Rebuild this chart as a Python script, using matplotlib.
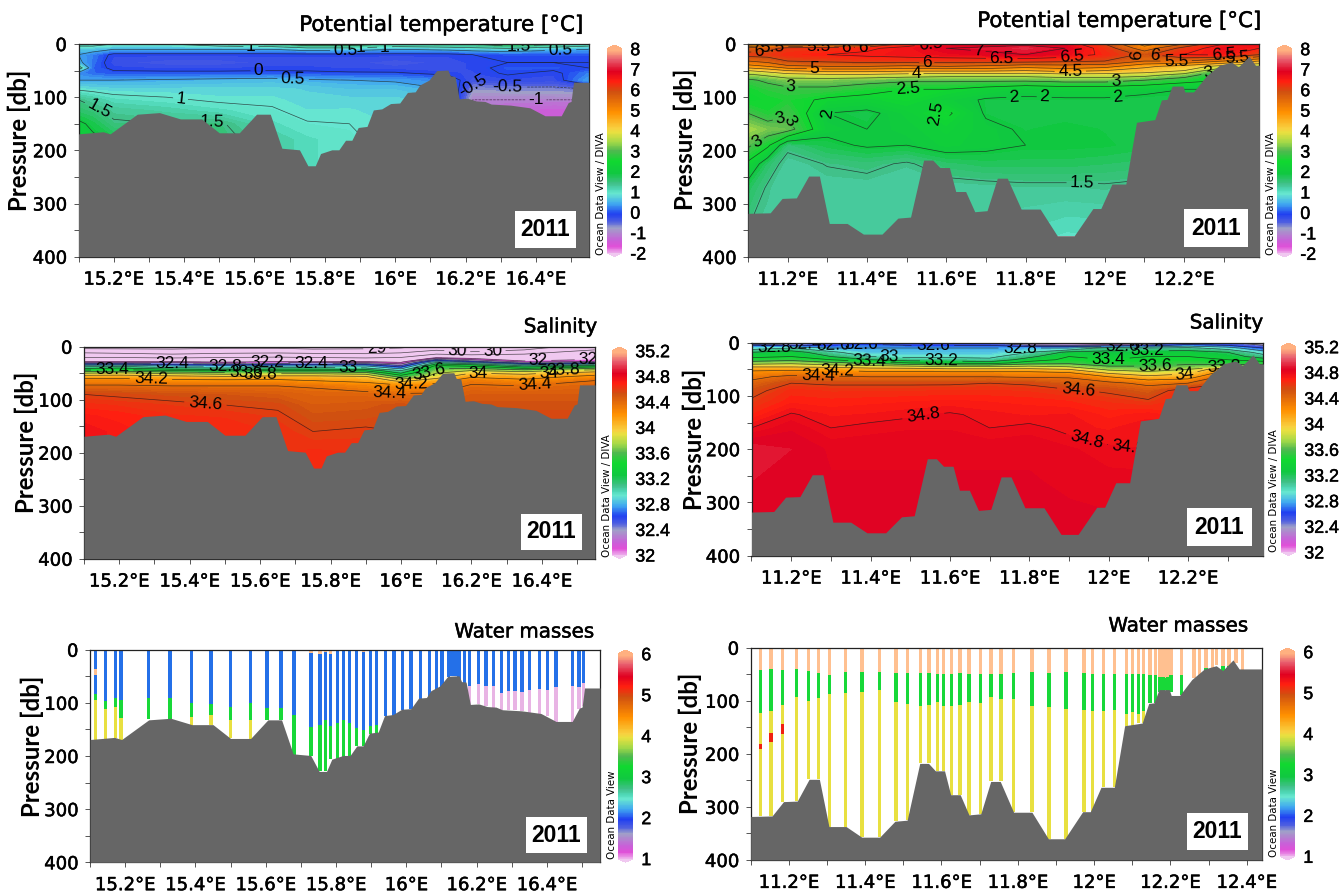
import numpy as np
import matplotlib
matplotlib.use('Agg')
import matplotlib.pyplot as plt
import matplotlib.patheffects as pe
from matplotlib.colors import LinearSegmentedColormap, Normalize
from matplotlib.cm import ScalarMappable
from matplotlib.patches import Rectangle

W, H = 1339, 894

# Bottom topography of the two transects
east_bathy_lon = [15.10, 15.17, 15.19, 15.267, 15.33, 15.39, 15.45, 15.50, 15.557, 15.606, 15.645, 15.678, 15.728,
                  15.752, 15.773, 15.788, 15.82, 15.84, 15.859, 15.877, 15.895, 15.92, 15.938, 15.962, 15.987, 16.013,
                  16.035, 16.057, 16.07, 16.096, 16.118, 16.15, 16.157, 16.17, 16.182, 16.206, 16.23, 16.255, 16.273,
                  16.328, 16.383, 16.426, 16.472, 16.492, 16.50, 16.507, 16.551]
east_bathy_db = [169, 165, 169, 132, 129, 141, 141, 167, 167, 132, 132, 196, 199,
                 229, 229, 206, 199, 199, 181, 181, 157, 155, 124, 122, 112, 111,
                 91, 90, 77, 68, 50, 49, 60, 61, 103, 102, 107, 108, 113,
                 115, 120, 135, 135, 110, 108, 72, 72]
west_bathy_lon = [11.10, 11.156, 11.186, 11.222, 11.253, 11.28, 11.305, 11.35, 11.391, 11.438, 11.478, 11.51, 11.543,
                  11.566, 11.584, 11.608, 11.624, 11.649, 11.672, 11.703, 11.729, 11.754, 11.789, 11.837, 11.88, 11.923,
                  11.97, 11.99, 12.018, 12.053, 12.08, 12.126, 12.143, 12.157, 12.17, 12.197, 12.202, 12.224, 12.256,
                  12.289, 12.32, 12.337, 12.364, 12.38, 12.39, 12.44]
west_bathy_db = [318, 317, 290, 289, 248, 248, 337, 337, 357, 357, 327, 325, 218,
                 218, 232, 232, 277, 277, 315, 313, 252, 252, 310, 310, 360, 360,
                 309, 309, 263, 263, 147, 142, 105, 104, 79, 79, 90, 90, 60,
                 40, 34, 43, 23, 40, 40, 40]

# Temperature, east transect
temp_e_lon = [15.10, 15.14, 15.20, 15.35, 15.50, 15.65, 15.75, 15.87, 16.00, 16.15, 16.22, 16.32, 16.45, 16.55]
temp_e_db = [0, 4, 10, 20, 35, 45, 55, 68, 85, 105, 125, 150, 180, 232]
temp_e = [
    [1.4, 1.2, 1.0, 1.0, 1.2, 1.4, 1.9, 1.9, 1.4, 1.5, 1.5, 1.9, 1.6, 1.2],
    [1.0, 1.0, 0.9, 0.9, 1.0, 1.1, 1.4, 1.4, 1.1, 1.2, 1.3, 1.5, 1.2, 1.0],
    [0.7, 0.7, 0.5, 0.5, 0.5, 0.5, 0.7, 0.7, 0.5, 0.6, 0.7, 0.8, 0.6, 0.5],
    [0.5, 0.3, -0.1, -0.1, -0.1, -0.1, -0.1, -0.1, -0.1, -0.1, 0.0, 0.1, 0.1, 0.1],
    [0.6, 0.25, -0.2, -0.3, -0.3, -0.2, -0.2, -0.2, -0.3, -0.2, -0.1, 0.0, 0.0, 0.0],
    [1.3, 0.2, -0.1, -0.15, -0.15, -0.1, -0.1, -0.15, -0.2, -0.2, -0.1, 0.1, 0.1, 0.0],
    [0.35, 0.2, 0.1, 0.1, 0.1, 0.1, 0.08, 0.05, 0.05, -0.1, -0.15, 0.05, -0.1, 0.3],
    [0.5, 0.5, 0.5, 0.55, 0.6, 0.65, 0.55, 0.5, 0.45, 0.3, -0.3, -0.15, -0.2, 0.5],
    [0.95, 0.9, 0.85, 0.85, 0.85, 0.85, 0.8, 0.7, 0.7, 0.5, -0.65, -0.6, -0.6, -0.5],
    [1.5, 1.35, 1.15, 1.05, 0.95, 0.95, 0.85, 0.85, 0.85, 0.7, -1.0, -1.0, -1.0, -1.0],
    [1.7, 1.6, 1.4, 1.3, 1.15, 1.03, 0.92, 0.93, 0.85, 0.7, -1.1, -1.25, -1.35, -1.3],
    [2.1, 1.9, 1.55, 1.5, 1.55, 1.15, 1.02, 1.0, 0.9, 0.7, -1.1, -1.3, -1.4, -1.3],
    [2.2, 2.1, 1.9, 1.7, 1.6, 1.35, 1.15, 1.05, 0.9, 0.7, -1.1, -1.3, -1.4, -1.3],
    [2.2, 2.1, 1.9, 1.7, 1.6, 1.35, 1.15, 1.05, 0.9, 0.7, -1.1, -1.3, -1.4, -1.3],
]

# Temperature, west transect
temp_w_lon = [11.10, 11.15, 11.20, 11.30, 11.40, 11.50, 11.60, 11.70, 11.80, 11.90, 12.00, 12.10, 12.20, 12.30, 12.39]
temp_w_db = [0, 8, 20, 32, 42, 50, 58, 68, 85, 105, 130, 160, 190, 225, 270, 360]
temp_w = [
    [4.0, 4.5, 4.5, 4.5, 5.0, 6.2, 6.7, 6.8, 6.9, 6.8, 6.0, 4.8, 5.5, 6.5, 6.8],
    [5.7, 5.8, 6.2, 6.3, 6.4, 6.7, 7.0, 7.1, 7.2, 7.0, 6.3, 5.2, 6.2, 6.8, 6.5],
    [6.2, 6.2, 6.4, 6.5, 6.6, 6.7, 6.8, 6.9, 7.0, 6.8, 6.4, 5.9, 6.5, 6.6, 6.0],
    [5.5, 5.7, 6.0, 6.1, 6.2, 6.2, 6.2, 6.2, 6.2, 6.1, 6.0, 5.5, 5.5, 5.0, 4.5],
    [4.8, 5.0, 5.4, 5.5, 5.5, 5.4, 5.5, 5.4, 5.2, 5.3, 5.2, 4.6, 4.3, 3.8, 3.5],
    [4.0, 4.2, 4.5, 4.7, 4.7, 4.6, 4.6, 4.6, 4.5, 4.7, 4.5, 4.3, 4.0, 3.0, 3.0],
    [3.4, 3.6, 3.8, 3.9, 3.9, 3.8, 3.7, 3.7, 3.7, 3.8, 3.8, 3.7, 3.3, 2.5, 2.5],
    [2.9, 3.1, 3.3, 3.3, 3.2, 3.1, 3.1, 3.1, 3.1, 3.2, 3.2, 3.0, 2.7, 2.5, 2.5],
    [2.6, 2.8, 2.9, 2.9, 2.7, 2.5, 2.5, 2.3, 2.1, 2.2, 2.2, 2.1, 2.0, 2.0, 2.0],
    [2.5, 2.6, 2.7, 2.4, 2.3, 2.5, 2.2, 1.95, 1.95, 1.95, 1.95, 1.9, 1.9, 1.9, 1.9],
    [3.0, 2.7, 2.95, 2.0, 1.9, 2.2, 2.6, 1.95, 1.9, 1.9, 1.9, 1.9, 1.9, 1.9, 1.9],
    [3.5, 3.3, 3.2, 2.1, 2.0, 2.1, 2.3, 2.1, 1.95, 2.0, 1.95, 1.9, 1.9, 1.9, 1.9],
    [3.1, 2.6, 1.6, 1.9, 2.05, 2.0, 2.2, 2.1, 2.0, 2.0, 1.98, 1.9, 1.9, 1.9, 1.9],
    [2.4, 1.7, 1.35, 1.52, 1.6, 1.45, 1.7, 1.8, 1.8, 1.8, 1.75, 1.7, 1.7, 1.7, 1.7],
    [1.8, 1.45, 1.35, 1.35, 1.35, 1.35, 1.35, 1.38, 1.42, 1.42, 1.45, 1.4, 1.4, 1.4, 1.4],
    [1.45, 1.4, 1.4, 1.4, 1.4, 1.35, 1.35, 1.3, 1.2, 1.1, 1.1, 1.1, 1.1, 1.1, 1.1],
]

# Salinity, east transect
sal_e_lon = [15.10, 15.20, 15.35, 15.50, 15.65, 15.75, 15.90, 16.00, 16.10, 16.20, 16.35, 16.55]
sal_e_db = [0, 6, 14, 22, 28, 31, 34, 37, 41, 45, 50, 56, 64, 74, 90, 110, 130, 160, 200, 240]
sal_e = [
    [28.5, 28.6, 28.7, 28.8, 28.8, 28.7, 28.8, 28.8, 29.3, 29.0, 29.5, 30.5],
    [29.3, 29.2, 29.1, 29.2, 29.2, 29.1, 29.1, 29.3, 29.9, 29.4, 30.0, 31.0],
    [30.3, 30.2, 30.0, 30.2, 30.3, 30.2, 30.1, 30.3, 31.0, 30.8, 31.0, 31.5],
    [31.2, 31.2, 31.1, 31.2, 31.3, 31.2, 31.1, 31.2, 32.2, 32.0, 31.6, 31.9],
    [32.0, 32.0, 32.0, 31.9, 32.0, 32.0, 32.0, 31.9, 32.8, 32.5, 32.1, 32.2],
    [32.3, 32.3, 32.3, 32.2, 32.3, 32.3, 32.3, 32.1, 33.1, 32.9, 32.4, 32.5],
    [32.7, 32.7, 32.6, 32.5, 32.6, 32.6, 32.6, 32.3, 33.3, 33.2, 32.8, 32.9],
    [32.95, 33.0, 32.85, 32.8, 32.85, 32.85, 32.85, 32.5, 33.5, 33.4, 33.1, 33.3],
    [33.2, 33.25, 33.1, 33.05, 33.1, 33.1, 33.05, 32.75, 33.6, 33.6, 33.4, 33.6],
    [33.45, 33.5, 33.4, 33.35, 33.4, 33.4, 33.35, 33.0, 33.7, 33.8, 33.7, 33.9],
    [33.8, 33.85, 33.75, 33.7, 33.75, 33.75, 33.7, 33.2, 33.8, 34.0, 33.95, 34.1],
    [34.1, 34.1, 34.05, 34.0, 34.05, 34.05, 34.0, 33.5, 33.9, 34.15, 34.1, 34.25],
    [34.3, 34.3, 34.25, 34.25, 34.25, 34.2, 34.15, 33.95, 34.1, 34.35, 34.25, 34.4],
    [34.42, 34.42, 34.4, 34.4, 34.4, 34.38, 34.3, 34.25, 34.3, 34.42, 34.4, 34.45],
    [34.6, 34.58, 34.55, 34.53, 34.5, 34.46, 34.45, 34.42, 34.42, 34.5, 34.5, 34.5],
    [34.68, 34.66, 34.63, 34.6, 34.58, 34.5, 34.52, 34.55, 34.5, 34.55, 34.55, 34.55],
    [34.74, 34.72, 34.67, 34.66, 34.62, 34.54, 34.55, 34.58, 34.5, 34.58, 34.58, 34.58],
    [34.8, 34.75, 34.7, 34.7, 34.66, 34.6, 34.62, 34.6, 34.5, 34.58, 34.58, 34.58],
    [34.8, 34.75, 34.7, 34.7, 34.66, 34.68, 34.66, 34.6, 34.5, 34.58, 34.58, 34.58],
    [34.8, 34.75, 34.7, 34.7, 34.66, 34.7, 34.66, 34.6, 34.5, 34.58, 34.58, 34.58],
]

# Salinity, west transect
sal_w_lon = [11.10, 11.20, 11.30, 11.40, 11.50, 11.60, 11.70, 11.80, 11.90, 12.00, 12.10, 12.20, 12.30, 12.39]
sal_w_db = [0, 5, 10, 18, 26, 32, 38, 44, 50, 56, 64, 76, 90, 110, 135, 160, 200, 260, 360]
sal_w = [
    [32.1, 32.0, 32.3, 32.4, 32.5, 32.5, 32.4, 32.0, 32.1, 32.0, 32.0, 32.4, 32.5, 32.1],
    [32.6, 32.5, 32.6, 32.7, 32.6, 32.6, 32.6, 32.4, 32.4, 32.3, 32.5, 32.7, 32.6, 32.4],
    [32.9, 33.0, 32.8, 32.8, 32.8, 32.8, 32.8, 32.8, 32.8, 33.1, 33.0, 33.05, 32.9, 32.6],
    [33.2, 33.3, 33.05, 32.85, 32.85, 32.85, 32.85, 33.0, 33.25, 33.25, 33.3, 33.3, 33.2, 32.9],
    [33.35, 33.4, 33.2, 33.0, 32.95, 32.95, 32.95, 33.15, 33.4, 33.35, 33.4, 33.4, 33.3, 33.1],
    [33.5, 33.55, 33.4, 33.2, 33.1, 33.1, 33.05, 33.3, 33.45, 33.4, 33.45, 33.45, 33.4, 33.3],
    [33.7, 33.75, 33.65, 33.55, 33.4, 33.35, 33.3, 33.5, 33.55, 33.5, 33.5, 33.55, 33.5, 33.5],
    [33.95, 33.95, 33.9, 33.85, 33.8, 33.75, 33.75, 33.8, 33.75, 33.6, 33.6, 33.65, 33.7, 33.7],
    [34.15, 34.15, 34.15, 34.1, 34.1, 34.05, 34.05, 34.05, 34.0, 33.75, 33.7, 33.8, 34.2, 34.2],
    [34.25, 34.3, 34.3, 34.25, 34.25, 34.25, 34.25, 34.25, 34.2, 33.95, 33.85, 33.95, 34.3, 34.3],
    [34.35, 34.45, 34.42, 34.4, 34.4, 34.4, 34.4, 34.38, 34.38, 34.2, 34.05, 34.1, 34.5, 34.5],
    [34.45, 34.6, 34.58, 34.58, 34.58, 34.58, 34.6, 34.58, 34.5, 34.45, 34.35, 34.4, 34.6, 34.6],
    [34.55, 34.68, 34.66, 34.66, 34.66, 34.67, 34.67, 34.66, 34.62, 34.58, 34.5, 34.7, 34.7, 34.7],
    [34.62, 34.72, 34.71, 34.72, 34.73, 34.74, 34.73, 34.72, 34.7, 34.66, 34.62, 34.7, 34.7, 34.7],
    [34.7, 34.81, 34.76, 34.77, 34.79, 34.81, 34.78, 34.76, 34.77, 34.72, 34.75, 34.7, 34.7, 34.7],
    [34.8, 34.86, 34.8, 34.82, 34.83, 34.83, 34.8, 34.82, 34.78, 34.76, 34.8, 34.8, 34.8, 34.8],
    [34.93, 34.9, 34.86, 34.86, 34.86, 34.86, 34.86, 34.86, 34.84, 34.81, 34.8, 34.8, 34.8, 34.8],
    [34.9, 34.88, 34.87, 34.87, 34.87, 34.87, 34.87, 34.87, 34.86, 34.85, 34.85, 34.85, 34.85, 34.85],
    [34.88, 34.88, 34.88, 34.88, 34.88, 34.88, 34.88, 34.88, 34.88, 34.88, 34.88, 34.88, 34.88, 34.88],
]

# Contour levels
temp_e_levels = [-1, -0.5, 0, 0.5, 1, 1.5, 2]
temp_w_levels = [1.5, 2, 2.5, 3, 3.5, 4, 4.5, 5, 5.5, 6, 6.5, 7]
sal_e_levels = [29, 30, 31, 32, 32.2, 32.4, 32.6, 32.8, 33, 33.2, 33.4, 33.6, 33.8, 34, 34.2, 34.4, 34.6]
sal_w_levels = [32, 32.2, 32.4, 32.6, 32.8, 33, 33.2, 33.4, 33.6, 33.8, 34, 34.2, 34.4, 34.6, 34.8]

# Where the contour labels sit (lon, db)
temp_e_labels = [(15.59, 5), (15.86, 12), (15.9, 8), (15.97, 5), (16.35, 5), (16.47, 11), (15.61, 47), (15.71, 65),
                 (15.39, 102), (15.16, 121), (16.22, 55), (16.32, 82), (16.4, 103), (15.48, 152)]
temp_w_labels = [(11.127, 11), (11.162, 5), (11.267, 47), (11.208, 78), (11.503, 92), (11.524, 55), (11.551, 31),
                 (11.575, 10), (11.68, 19), (11.74, 30), (11.916, 14), (11.913, 53), (12.027, 70), (12.083, 16),
                 (12.126, 24), (12.18, 30), (12.3, 21), (12.334, 25), (12.262, 54), (11.77, 94), (11.845, 146),
                 (12.038, 149), (11.943, 267), (11.175, 121), (11.19, 150), (11.12, 179), (11.283, 140),
                 (11.537, 134), (11.278, 5), (11.348, 6), (11.389, 8)]
sal_e_labels = [(15.18, 44), (15.35, 33), (15.29, 61), (15.5, 38), (15.56, 47), (15.6, 52), (15.62, 30), (15.746, 33),
                (15.85, 41), (16.08, 50), (16.22, 48), (16.39, 25), (16.46, 44), (16.42, 52), (16.38, 71), (16.03, 79),
                (15.445, 105), (15.965, 113), (15.93, 3), (16.16, 6), (16.26, 3), (16.53, 16)]
sal_w_labels = [(11.158, 8), (11.236, 3), (11.307, 6), (11.377, 3), (11.448, 19), (11.397, 37), (11.317, 55),
                (11.268, 58), (11.557, 6), (11.578, 34), (11.776, 11), (12.035, 6), (12.098, 13), (12.0, 34),
                (12.118, 47), (12.192, 56), (12.29, 45), (11.923, 94), (11.54, 169), (11.945, 179), (12.056, 161)]

# Water masses, east transect: bottom of each layer per station, 0 = layer absent
wm_e_lon = [15.116, 15.144, 15.172, 15.188, 15.267, 15.328, 15.389, 15.444, 15.5, 15.556, 15.604, 15.643, 15.68,
            15.729, 15.754, 15.77, 15.785, 15.805, 15.822, 15.839, 15.859, 15.878, 15.898, 15.916, 15.94, 15.965,
            15.99, 16.013, 16.041, 16.065, 16.085, 16.101, 16.12, 16.126, 16.132, 16.14, 16.146, 16.15, 16.166, 16.18,
            16.205, 16.227, 16.248, 16.27, 16.29, 16.309, 16.329, 16.351, 16.378, 16.401, 16.426, 16.473, 16.491,
            16.504]
wm_e_peach = [0, 0, 0, 0, 0, 0, 0, 0, 0, 0, 3, 3, 0, 6, 8, 5, 8, 3, 3, 0, 2, 5, 3, 3, 3, 3,
              2, 0, 1, 1, 1, 1, 3, 3, 3, 3, 3, 3, 3, 0, 0, 2, 0, 0, 0, 0, 2, 0, 0, 0, 0, 3, 3, 0]
wm_e_blue = [83, 97, 90, 95, 90, 90, 101, 102, 107, 101, 110, 110, 122, 146, 142, 132, 143, 138, 132, 138, 147, 152,
             144, 142, 125, 124, 113, 112, 92, 91, 77, 70, 52, 50, 50, 50, 50, 60, 62, 68, 65, 68, 68, 82, 78, 78,
             80, 75, 74, 75, 70, 68, 70, 62]
wm_e_green = [94, 112, 108, 128, 131, 130, 127, 122, 132, 133, 132, 132, 198, 200, 229, 229, 206, 206, 203, 200, 182,
              182, 158, 157, 0, 0, 0, 0, 0, 0, 0, 0, 0, 0, 0, 0, 0, 0, 0, 0, 0, 0, 0, 0, 0, 0, 0, 0, 0, 0, 0, 0, 0, 0]
wm_e_yellow = [171, 168, 166, 172, 0, 0, 143, 141, 167, 168, 0, 0, 0, 0, 0, 0, 0, 0, 0, 0, 0, 0, 0, 0, 0, 0,
               0, 0, 0, 0, 0, 0, 0, 0, 0, 0, 0, 0, 0, 0, 0, 0, 0, 0, 0, 0, 0, 0, 0, 0, 0, 0, 0, 0]
wm_e_pink = [0, 0, 0, 0, 0, 0, 0, 0, 0, 0, 0, 0, 0, 0, 0, 0, 0, 0, 0, 0, 0, 0, 0, 0, 0, 0, 0, 0, 0, 0, 0, 0, 0, 0, 0,
             0, 0, 0, 0, 104, 103, 106, 109, 114, 113, 114, 116, 120, 121, 125, 137, 136, 112, 105]
# peach lens inside the first east station
wm_e_lens = (15.116, 36, 47)

# Water masses, west transect
wm_w_lon = [11.125, 11.153, 11.184, 11.22, 11.252, 11.278, 11.306, 11.348, 11.392, 11.437, 11.481, 11.511, 11.545,
            11.567, 11.589, 11.606, 11.626, 11.649, 11.672, 11.702, 11.73, 11.756, 11.789, 11.837, 11.882, 11.926,
            11.973, 11.996, 12.025, 12.054, 12.085, 12.101, 12.116, 12.13, 12.147, 12.161, 12.173, 12.18, 12.187,
            12.194, 12.201, 12.229, 12.262, 12.276, 12.293, 12.31, 12.321, 12.338, 12.353, 12.372, 12.389]
wm_w_peach = [42, 40, 42, 41, 44, 48, 51, 46, 46, 46, 48, 48, 48, 48, 49, 49, 49, 48, 49, 50, 50, 49, 48, 46, 47, 46,
              48, 49, 50, 49, 49, 50, 50, 50, 51, 52, 55, 56, 57, 55, 52, 52, 58, 55, 39, 38, 33, 34, 35, 28, 42]
wm_w_green = [123, 120, 108, 92, 100, 95, 88, 85, 83, 80, 102, 106, 110, 108, 103, 110, 109, 108, 102, 104, 92, 96,
              97, 110, 112, 115, 118, 120, 120, 118, 124, 122, 125, 120, 105, 105, 83, 82, 80, 81, 83, 90, 0, 0, 47,
              0, 0, 46, 45, 0, 0]
wm_w_yellow = [318, 317, 290, 289, 248, 248, 337, 337, 357, 357, 327, 325, 218, 218, 232, 232, 277, 277, 315, 313,
               252, 252, 310, 310, 360, 360, 309, 309, 263, 263, 147, 147, 142, 142, 0, 0, 0, 0, 0, 0, 0, 0, 0, 0, 0,
               0, 0, 0, 0, 0, 0]
# red lenses (lon, top, bottom)
wm_w_red_lon = [11.125, 11.153, 11.184]
wm_w_red_top = [181, 160, 144]
wm_w_red_bottom = [190, 177, 163]

peach = '#ffc090'
blue = '#2470e8'
green = '#18d838'
yellow = '#e8e040'
pink = '#e8b4e4'
red = '#f02010'
grey = '#666666'

# ODV colour bar
odv_stops = [(0.0, '#f0c8f0'), (0.04, '#e050d8'), (0.07, '#c860d8'), (0.13, '#a0a0c8'), (0.16, '#5060e0'),
             (0.20, '#2040f0'), (0.25, '#40a8f0'), (0.30, '#68e8d0'), (0.32, '#50d8b8'), (0.35, '#40c088'),
             (0.40, '#10c840'), (0.46, '#10d830'), (0.51, '#50b850'), (0.55, '#a0d848'), (0.60, '#e8e040'),
             (0.62, '#f8d040'), (0.70, '#ff9000'), (0.80, '#d05010'), (0.85, '#ff2010'), (0.90, '#e00020'),
             (0.96, '#e86070'), (1.0, '#ffb080')]
odv = LinearSegmentedColormap.from_list('odv', odv_stops, N=256)
odv.set_under('#f0c8f0')
odv.set_over('#ffb080')

heavy = [pe.withStroke(linewidth=0.35, foreground='black')]


def px_rect(x0, y0, x1, y1):
    return [x0 / W, 1 - y1 / H, (x1 - x0) / W, (y1 - y0) / H]


def base_axes(fig, box, xlim, xticks, xlabels):
    ax = fig.add_axes(px_rect(*box))
    ax.set_xlim(*xlim)
    ax.set_ylim(400, 0)
    ax.set_yticks([0, 100, 200, 300, 400])
    ax.set_yticks([50, 150, 250, 350], minor=True)
    ax.set_xticks(xticks)
    ax.set_xticklabels(xlabels)
    minor = np.arange(11.1, 16.6, 0.1)
    ax.set_xticks(minor[(minor >= xlim[0] - 1e-6) & (minor <= xlim[1])], minor=True)
    ax.tick_params(which='both', length=3.5, width=0.7, color='#555555')
    ax.tick_params(axis='x', which='major', pad=6.5, labelsize=13)
    ax.tick_params(axis='y', which='major', pad=5, labelsize=13)
    for t in ax.get_xticklabels() + ax.get_yticklabels():
        t.set_path_effects(heavy)
    for s in ax.spines.values():
        s.set_linewidth(0.9)
        s.set_color('#222222')
    return ax


def add_bathy(ax, lon, db):
    ax.fill_between(lon, db, 400, color=grey, lw=0, zorder=3)


def add_field(ax, lon, db, grid, vmin, vmax, levels, labels):
    norm = Normalize(vmin, vmax)
    ax.contourf(lon, db, np.array(grid), levels=np.linspace(vmin, vmax, 97), cmap=odv, norm=norm,
                extend='both', zorder=1)
    cs = ax.contour(lon, db, np.array(grid), levels=levels, colors='#1c1c1c', linewidths=0.5, alpha=0.75, zorder=2)
    txts = ax.clabel(cs, fmt='%g', manual=labels, inline=True, inline_spacing=2, fontsize=12.5, zorder=2.5)
    for t in txts:
        t.set_family('Liberation Sans')
        t.set_color('black')
        t.set_alpha(1)


def add_cbar(fig, box, vmin, vmax, ticks, ticklabels):
    cax = fig.add_axes(px_rect(*box))
    cb = fig.colorbar(ScalarMappable(Normalize(vmin, vmax), odv), cax=cax, extend='both', extendfrac=0.018)
    cb.set_ticks(ticks)
    cb.set_ticklabels(ticklabels)
    cb.minorticks_off()
    cax.tick_params(length=0, pad=6, labelsize=12.8)
    for t in cax.get_yticklabels():
        t.set_family('Liberation Sans')
        t.set_path_effects(heavy)
    cb.outline.set_visible(False)
    cb.solids.set_edgecolor('face')


def year_box(fig, box):
    x0, y0, x1, y1 = box
    fig.add_artist(Rectangle((x0 / W, 1 - y1 / H), (x1 - x0) / W, (y1 - y0) / H,
                             transform=fig.transFigure, color='white', lw=0, zorder=5))
    fig.text((x0 + x1) / 2 / W, 1 - (y0 + y1) / 2 / H, '2011', ha='center', va='center',
             fontsize=16.5, fontweight='bold', family='Liberation Sans', zorder=6)


def labels(fig, title, title_x, title_y, title_size, ylab_x, ylab_y, odv_text, odv_x, odv_y):
    t = fig.text(title_x / W, 1 - title_y / H, title, ha='right', va='center', fontsize=title_size)
    t.set_path_effects(heavy)
    fig.text(ylab_x / W, 1 - ylab_y / H, 'Pressure [db]', rotation=90, ha='center', va='center',
             fontsize=17.3, family='Lato', fontweight='bold')
    fig.text(odv_x / W, 1 - odv_y / H, odv_text, rotation=90, ha='center', va='bottom', fontsize=7.4)


def stacked_bars(ax, lon, layers, width):
    top = np.zeros(len(lon))
    for bottom, colour in layers:
        bottom = np.maximum(top, np.array(bottom, dtype=float))
        ax.bar(lon, bottom - top, width=width, bottom=top, color=colour, lw=0, zorder=1)
        top = bottom


fig = plt.figure(figsize=(W / 100, H / 100), dpi=100)

e_ticks = [15.2, 15.4, 15.6, 15.8, 16.0, 16.2, 16.4]
e_labels = ['15.2°E', '15.4°E', '15.6°E', '15.8°E', '16°E', '16.2°E', '16.4°E']
w_ticks = [11.2, 11.4, 11.6, 11.8, 12.0, 12.2]
w_labels = ['11.2°E', '11.4°E', '11.6°E', '11.8°E', '12°E', '12.2°E']
temp_ticks = [8, 7, 6, 5, 4, 3, 2, 1, 0, -1, -2]
temp_ticklabels = ['8', '7', '6', '5', '4', '3', '2', '1', '0', '-1', '-2']
sal_ticks = [35.2, 34.8, 34.4, 34, 33.6, 33.2, 32.8, 32.4, 32]
sal_ticklabels = ['35.2', '34.8', '34.4', '34', '33.6', '33.2', '32.8', '32.4', '32']
wm_ticks = [6, 5, 4, 3, 2, 1]
wm_ticklabels = ['6', '5', '4', '3', '2', '1']

# Top left
ax = base_axes(fig, (78.5, 44, 589, 256.7), (15.1, 16.551), e_ticks, e_labels)
add_field(ax, temp_e_lon, temp_e_db, temp_e, -2, 8, temp_e_levels, temp_e_labels)
add_bathy(ax, east_bathy_lon, east_bathy_db)
add_cbar(fig, (607, 45, 622, 256.7), -2, 8, temp_ticks, temp_ticklabels)
labels(fig, 'Potential temperature [°C]', 583, 25, 15.4, 19, 140, 'Ocean Data View / DIVA', 601, 255)
year_box(fig, (515, 211, 576, 248))

# Top right
ax = base_axes(fig, (748, 44, 1259, 257), (11.1, 12.389), w_ticks, w_labels)
add_field(ax, temp_w_lon, temp_w_db, temp_w, -2, 8, temp_w_levels, temp_w_labels)
add_bathy(ax, west_bathy_lon, west_bathy_db)
add_cbar(fig, (1277, 45, 1292, 257), -2, 8, temp_ticks, temp_ticklabels)
labels(fig, 'Potential temperature [°C]', 1261, 21, 15.4, 685, 139, 'Ocean Data View / DIVA', 1271, 255)
year_box(fig, (1184, 209, 1248, 247))

# Middle left
ax = base_axes(fig, (84, 346.7, 595, 558.7), (15.1, 16.551), e_ticks, e_labels)
add_field(ax, sal_e_lon, sal_e_db, sal_e, 32, 35.2, sal_e_levels, sal_e_labels)
add_bathy(ax, east_bathy_lon, east_bathy_db)
add_cbar(fig, (612, 347, 627, 558.7), 32, 35.2, sal_ticks, sal_ticklabels)
labels(fig, 'Salinity', 597, 327, 14.3, 26, 442, 'Ocean Data View / DIVA', 607, 557)
year_box(fig, (521, 514, 582, 550))

# Middle right
ax = base_axes(fig, (751.5, 342.7, 1263, 555.7), (11.1, 12.389), w_ticks, w_labels)
add_field(ax, sal_w_lon, sal_w_db, sal_w, 32, 35.2, sal_w_levels, sal_w_labels)
add_bathy(ax, west_bathy_lon, west_bathy_db)
add_cbar(fig, (1281, 343, 1296, 555.7), 32, 35.2, sal_ticks, sal_ticklabels)
labels(fig, 'Salinity', 1263, 323, 14.3, 694, 439, 'Ocean Data View / DIVA', 1274, 552)
year_box(fig, (1187, 508, 1252, 546))

# Bottom left
ax = base_axes(fig, (90, 649.7, 600, 862.3), (15.1, 16.551), e_ticks, e_labels)
stacked_bars(ax, wm_e_lon, [(wm_e_peach, peach), (wm_e_blue, blue), (wm_e_green, green),
                            (wm_e_yellow, yellow), (wm_e_pink, pink)], 0.0095)
ax.bar(wm_e_lens[0], wm_e_lens[2] - wm_e_lens[1], width=0.0095, bottom=wm_e_lens[1], color=peach, lw=0, zorder=1.5)
add_bathy(ax, east_bathy_lon, east_bathy_db)
add_cbar(fig, (618, 650, 633, 862.3), 1, 6, wm_ticks, wm_ticklabels)
labels(fig, 'Water masses', 594, 632, 14.3, 32, 746, 'Ocean Data View', 612, 859)
year_box(fig, (526, 817, 587, 853))

# Bottom right
w_ticks_f = w_ticks + [12.4]
w_labels_f = w_labels + ['12.4°E']
ax = base_axes(fig, (750.7, 647.7, 1262, 860), (11.1, 12.44), w_ticks_f, w_labels_f)
stacked_bars(ax, wm_w_lon, [(wm_w_peach, peach), (wm_w_green, green), (wm_w_yellow, yellow)], 0.009)
ax.bar(wm_w_red_lon, np.array(wm_w_red_bottom) - np.array(wm_w_red_top), width=0.009, bottom=wm_w_red_top,
       color=red, lw=0, zorder=1.5)
add_bathy(ax, west_bathy_lon, west_bathy_db)
add_cbar(fig, (1280, 648, 1295, 860), 1, 6, wm_ticks, wm_ticklabels)
labels(fig, 'Water masses', 1248, 626, 14.3, 690, 743, 'Ocean Data View', 1274, 857)
year_box(fig, (1187, 813, 1248, 850))

fig.savefig('out.png', dpi=100)
